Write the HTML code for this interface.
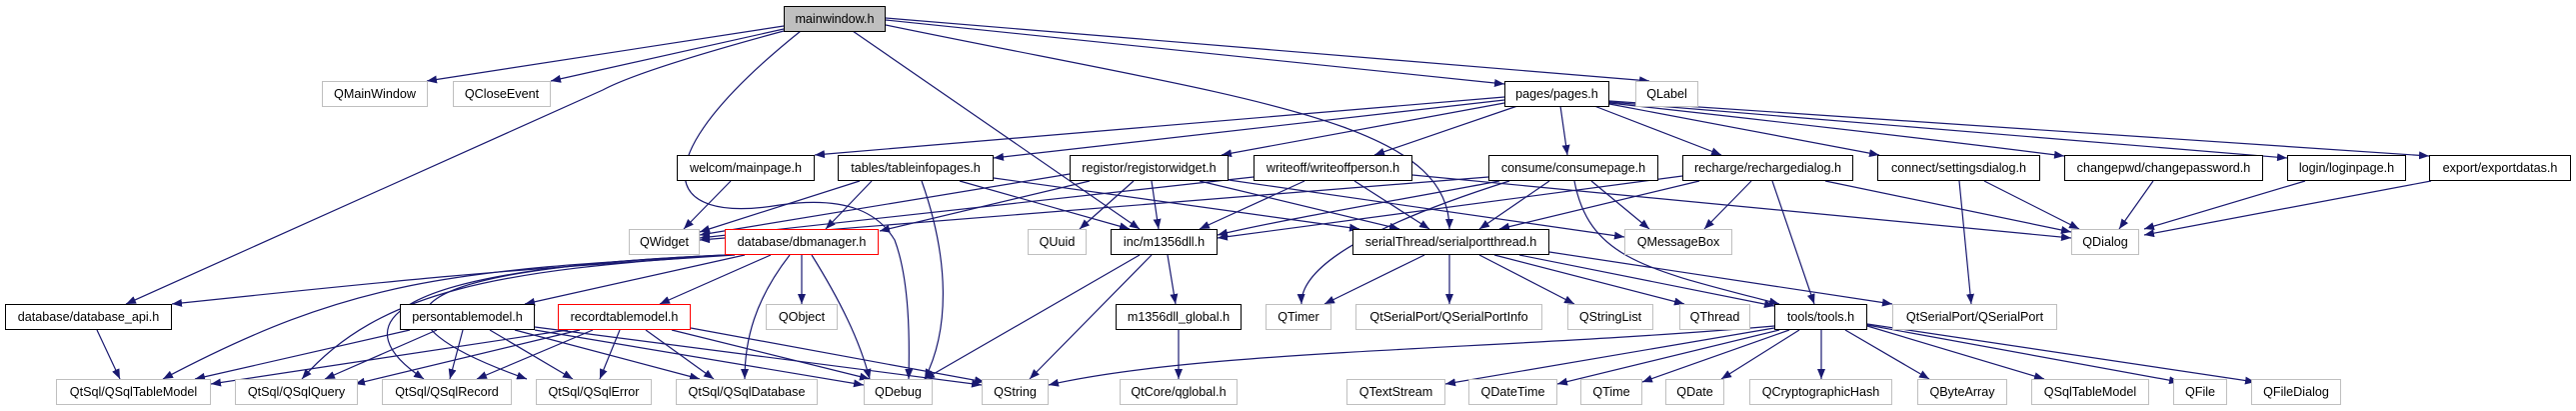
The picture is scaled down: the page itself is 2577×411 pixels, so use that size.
<!DOCTYPE html>
<html><head><meta charset="utf-8"><style>
html,body{margin:0;padding:0;background:#fff;width:2577px;height:411px;overflow:hidden;position:relative}
.n{position:absolute;box-sizing:border-box;font-family:"Liberation Sans",Arial,sans-serif;font-size:12.6px;color:#000;text-align:center;line-height:24px;height:26px;background:#fff;white-space:nowrap;z-index:2}
.g{border:1.3px solid #bfbfbf}
.b{border:1.5px solid #000}
.r{border:1.5px solid #ff0000}
.m{border:1.5px solid #000;background:#bfbfbf}
svg{position:absolute;left:0;top:0;z-index:1}
</style></head><body>
<svg width="2577" height="411" viewBox="0 0 2577 411">
<defs><marker id="a" markerUnits="userSpaceOnUse" markerWidth="11" markerHeight="8" refX="10" refY="4" orient="auto"><path d="M0,0 L10,4 L0,8 z" fill="#191970"/></marker></defs>
<g fill="none" stroke="#191970" stroke-width="1.2" marker-end="url(#a)">
<path d="M784 26 L427 81"/><path d="M784 29 L551 81"/>
<path d="M784 31 Q640 70 603 90 L126 304"/>
<path d="M801 31 C640 160 660 225 780 205 C850 195 880 215 895 240 C910 280 910 340 909 379"/>
<path d="M853 31 L1140 229"/>
<path d="M886 25 C1250 100 1450 120 1450 229"/>
<path d="M886 20 L1505 84"/><path d="M886 18 L1650 81"/>
<path d="M1505 97 L815 155"/><path d="M1505 100 L994 158"/><path d="M1505 103 L1222 155"/>
<path d="M1518 106 L1375 155"/><path d="M1561 106 L1568 155"/><path d="M1595 106 L1722 155"/>
<path d="M1610 104 L1880 155"/><path d="M1610 103 Q1900 135 2065 156"/>
<path d="M1610 102 Q1950 130 2288 158"/><path d="M1610 101 Q1950 125 2430 156"/>
<path d="M731 181 L684 229"/>
<path d="M860 181 L700 232"/><path d="M872 181 L826 229"/><path d="M960 181 L1130 229"/>
<path d="M922 181 C950 260 950 330 925 379"/><path d="M994 178 L1360 229"/>
<path d="M1070 174 L700 235"/><path d="M1090 181 L880 231"/><path d="M1134 181 L1080 229"/>
<path d="M1152 181 L1159 229"/><path d="M1200 181 L1400 229"/><path d="M1229 180 L1625 237"/>
<path d="M1254 177 L700 238"/><path d="M1305 181 L1200 229"/><path d="M1355 181 L1430 229"/><path d="M1413 175 L2072 238"/>
<path d="M1489 177 L700 240"/><path d="M1500 181 C1400 200 1280 220 1218 235"/><path d="M1550 181 L1480 229"/>
<path d="M1510 181 C1450 200 1300 250 1302 304"/><path d="M1592 181 L1650 229"/>
<path d="M1575 181 C1590 260 1650 270 1780 304"/>
<path d="M1683 176 L1218 238"/><path d="M1700 181 L1500 229"/><path d="M1752 181 L1705 229"/>
<path d="M1826 181 L2072 232"/><path d="M1773 181 L1815 304"/>
<path d="M1985 181 L2080 229"/><path d="M1960 181 L1972 304"/>
<path d="M2154 181 L2120 229"/><path d="M2306 181 L2145 229"/><path d="M2432 181 L2145 235"/>
<path d="M735 255 C500 270 400 280 172 304"/>
<path d="M727 255 C450 270 350 280 163 379"/>
<path d="M727 255 C500 270 380 290 302 379"/>
<path d="M727 255 C360 270 350 330 424 379"/>
<path d="M727 255 C380 270 360 320 527 379"/>
<path d="M790 255 C755 300 745 340 745 379"/>
<path d="M812 255 C840 300 860 340 870 379"/>
<path d="M802 255 L802 304"/><path d="M745 255 L525 304"/><path d="M771 255 L660 304"/>
<path d="M97 330 L120 379"/>
<path d="M410 330 L195 379"/><path d="M437 330 L325 379"/><path d="M463 330 L450 379"/>
<path d="M490 330 L573 379"/><path d="M515 330 L700 379"/><path d="M535 330 L864 385"/><path d="M535 327 L982 385"/>
<path d="M568 330 L211 384"/><path d="M580 330 L355 384"/><path d="M593 330 L477 379"/>
<path d="M620 330 L600 379"/><path d="M646 330 L714 379"/><path d="M672 330 L870 379"/><path d="M691 328 L985 382"/>
<path d="M1140 255 L925 379"/><path d="M1152 255 L1030 379"/><path d="M1168 255 L1176 304"/><path d="M1179 330 L1179 379"/>
<path d="M1425 255 L1325 304"/><path d="M1450 255 L1450 304"/><path d="M1480 255 L1575 304"/>
<path d="M1495 255 L1685 304"/><path d="M1520 255 L1775 306"/><path d="M1550 252 L1893 304"/>
<path d="M1775 326 C1500 350 1200 350 1049 385"/><path d="M1775 328 L1446 384"/><path d="M1780 330 L1558 384"/>
<path d="M1790 330 L1643 382"/><path d="M1800 330 L1722 379"/><path d="M1822 330 L1822 379"/>
<path d="M1846 330 L1930 379"/><path d="M1868 326 L2045 379"/><path d="M1868 325 L2180 382"/><path d="M1868 324 L2256 382"/>
</g></svg>

<div class="n m" style="left:784px;top:6px;width:102px">mainwindow.h</div>
<div class="n g" style="left:322px;top:81px;width:106px">QMainWindow</div>
<div class="n g" style="left:453px;top:81px;width:98px">QCloseEvent</div>
<div class="n b" style="left:1505px;top:81px;width:105px">pages/pages.h</div>
<div class="n g" style="left:1636px;top:81px;width:63px">QLabel</div>

<div class="n b" style="left:677px;top:155px;width:138px">welcom/mainpage.h</div>
<div class="n b" style="left:838px;top:155px;width:156px">tables/tableinfopages.h</div>
<div class="n b" style="left:1070px;top:155px;width:159px">registor/registorwidget.h</div>
<div class="n b" style="left:1254px;top:155px;width:159px">writeoff/writeoffperson.h</div>
<div class="n b" style="left:1489px;top:155px;width:170px">consume/consumepage.h</div>
<div class="n b" style="left:1683px;top:155px;width:171px">recharge/rechargedialog.h</div>
<div class="n b" style="left:1878px;top:155px;width:163px">connect/settingsdialog.h</div>
<div class="n b" style="left:2065px;top:155px;width:199px">changepwd/changepassword.h</div>
<div class="n b" style="left:2288px;top:155px;width:119px">login/loginpage.h</div>
<div class="n b" style="left:2430px;top:155px;width:142px">export/exportdatas.h</div>

<div class="n g" style="left:629px;top:229px;width:71px">QWidget</div>
<div class="n r" style="left:725px;top:229px;width:154px">database/dbmanager.h</div>
<div class="n g" style="left:1028px;top:229px;width:59px">QUuid</div>
<div class="n b" style="left:1111px;top:229px;width:107px">inc/m1356dll.h</div>
<div class="n b" style="left:1353px;top:229px;width:197px">serialThread/serialportthread.h</div>
<div class="n g" style="left:1625px;top:229px;width:108px">QMessageBox</div>
<div class="n g" style="left:2072px;top:229px;width:68px">QDialog</div>

<div class="n b" style="left:5px;top:304px;width:167px">database/database_api.h</div>
<div class="n b" style="left:400px;top:304px;width:135px">persontablemodel.h</div>
<div class="n r" style="left:558px;top:304px;width:133px">recordtablemodel.h</div>
<div class="n g" style="left:766px;top:304px;width:72px">QObject</div>
<div class="n b" style="left:1116px;top:304px;width:126px">m1356dll_global.h</div>
<div class="n g" style="left:1266px;top:304px;width:66px">QTimer</div>
<div class="n g" style="left:1356px;top:304px;width:187px">QtSerialPort/QSerialPortInfo</div>
<div class="n g" style="left:1568px;top:304px;width:86px">QStringList</div>
<div class="n g" style="left:1680px;top:304px;width:71px">QThread</div>
<div class="n b" style="left:1775px;top:304px;width:93px">tools/tools.h</div>
<div class="n g" style="left:1893px;top:304px;width:165px">QtSerialPort/QSerialPort</div>

<div class="n g" style="left:56px;top:379px;width:155px">QtSql/QSqlTableModel</div>
<div class="n g" style="left:235px;top:379px;width:123px">QtSql/QSqlQuery</div>
<div class="n g" style="left:382px;top:379px;width:130px">QtSql/QSqlRecord</div>
<div class="n g" style="left:536px;top:379px;width:116px">QtSql/QSqlError</div>
<div class="n g" style="left:676px;top:379px;width:142px">QtSql/QSqlDatabase</div>
<div class="n g" style="left:864px;top:379px;width:69px">QDebug</div>
<div class="n g" style="left:982px;top:379px;width:67px">QString</div>
<div class="n g" style="left:1120px;top:379px;width:118px">QtCore/qglobal.h</div>
<div class="n g" style="left:1347px;top:379px;width:99px">QTextStream</div>
<div class="n g" style="left:1469px;top:379px;width:89px">QDateTime</div>
<div class="n g" style="left:1581px;top:379px;width:62px">QTime</div>
<div class="n g" style="left:1666px;top:379px;width:59px">QDate</div>
<div class="n g" style="left:1750px;top:379px;width:143px">QCryptographicHash</div>
<div class="n g" style="left:1918px;top:379px;width:90px">QByteArray</div>
<div class="n g" style="left:2032px;top:379px;width:118px">QSqlTableModel</div>
<div class="n g" style="left:2174px;top:379px;width:54px">QFile</div>
<div class="n g" style="left:2252px;top:379px;width:90px">QFileDialog</div>
</body></html>
